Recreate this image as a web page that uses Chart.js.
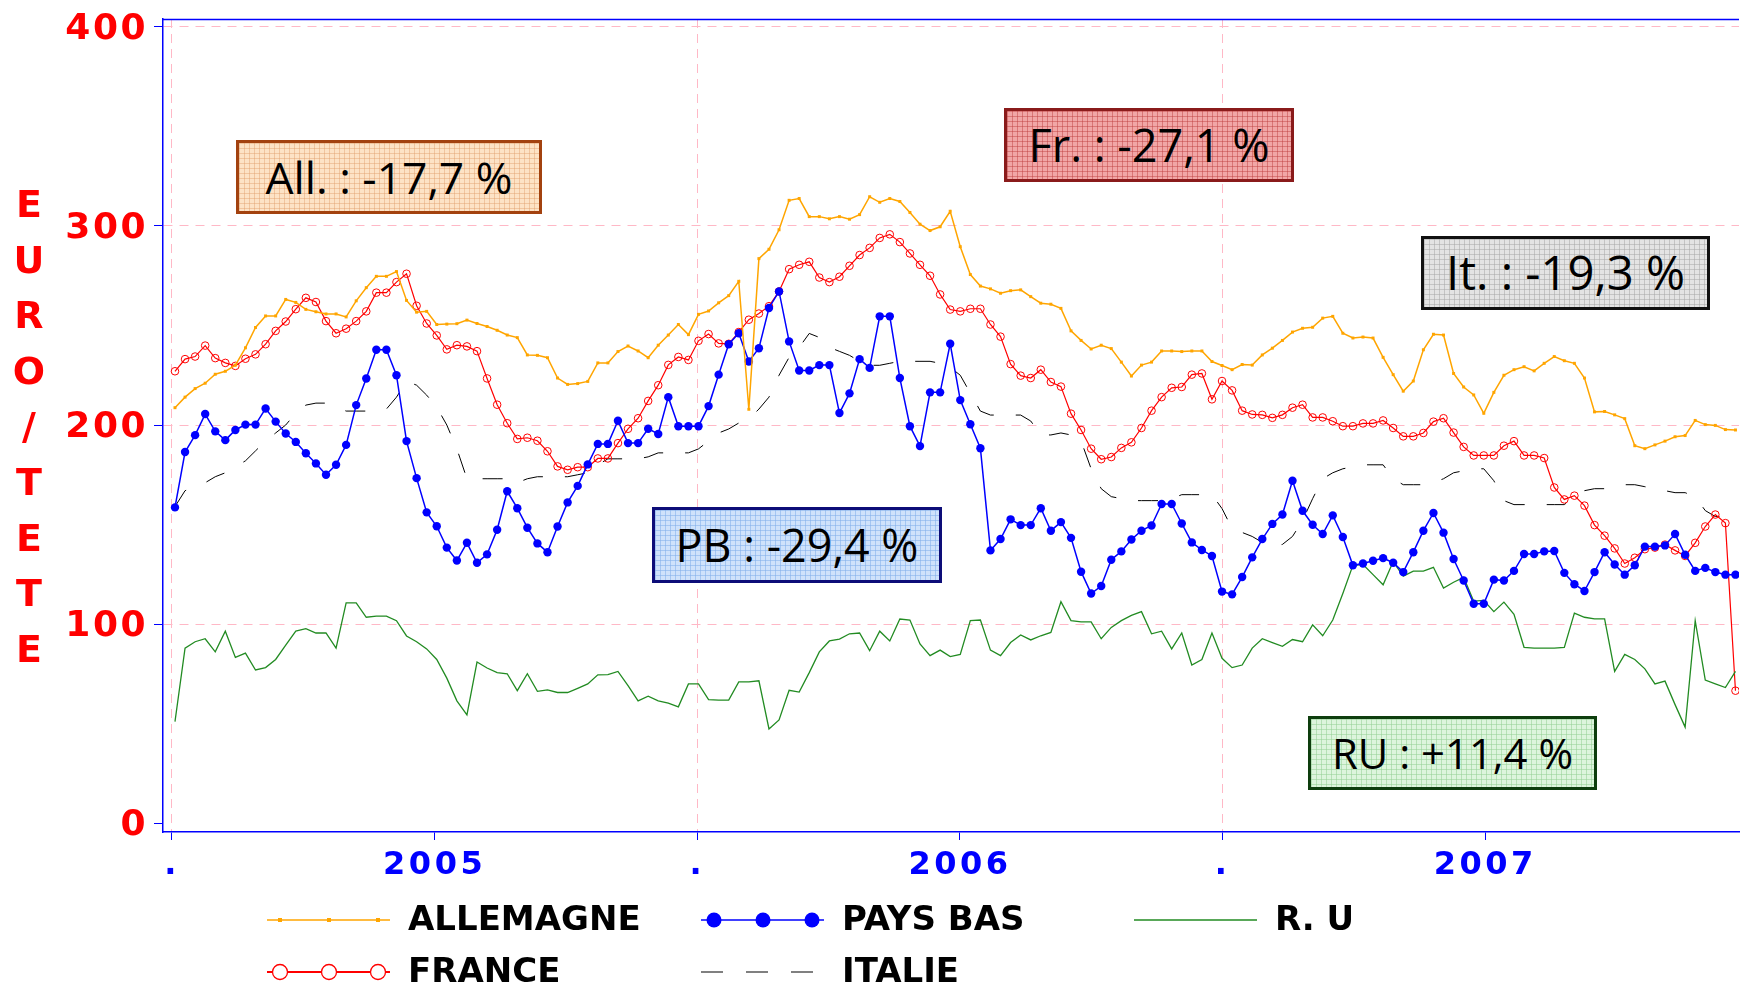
<!DOCTYPE html>
<html>
<head>
<meta charset="utf-8">
<script src="https://cdn.jsdelivr.net/npm/chart.js@4.4.1/dist/chart.umd.min.js"></script>
<style>
html,body{margin:0;padding:0;background:#fff;}
#wrap{position:relative;width:1744px;height:987px;overflow:hidden;background:#fff;}
#c{position:absolute;left:0;top:0;}
.note{position:absolute;box-sizing:border-box;border:3px solid #000;display:flex;align-items:center;justify-content:center;font-family:"Open Sans",sans-serif;color:#000;white-space:nowrap;background-size:5px 5px;}
.note span{line-height:1;font-size:42px;}
#ytitle{position:absolute;left:0;top:0;font-family:"DejaVu Sans",sans-serif;font-weight:bold;color:#ff0000;writing-mode:vertical-lr;text-orientation:upright;font-size:38px;line-height:1;white-space:nowrap;}
</style>
</head>
<body>
<div id="wrap">
  <canvas id="c" width="1744" height="987"></canvas>
  <div id="ytitle">EURO/TETE</div>
</div>
<script>
// ---------------- DATA ----------------
const seriesNames = ['ALLEMAGNE', 'PAYS BAS', 'R. U', 'FRANCE', 'ITALIE'];

const xTickWeeks  = [-0.3, 25.79, 51.88, 77.97, 104.06, 130.15];
const xTickLabels = ['.', '2005', '.', '2006', '.', '2007'];
const yTickValues = [0, 100, 200, 300, 400];

const allemagne = [208.7,214,218.3,221,225.5,227,230.1,238.8,249,254.8,254.8,263.1,261.6,258.1,256.9,255.8,255.8,254.3,262.4,269,
274.7,274.7,277.1,262.6,256.7,257.1,250.5,250.7,250.9,252.7,251,249.5,247.6,245.2,243.9,235.2,235,233.8,223.6,220.4,
220.8,221.9,231.2,231.2,236.9,239.7,237.2,233.8,240.1,245.2,250.5,245.4,255.6,257.3,261.4,265,272.2,207.9,283.6,288.3,
298.1,312.9,313.8,304.7,304.7,303.6,304.7,303.4,305.7,314.7,311.9,313.8,312.3,306.8,300.9,297.7,299.6,307.4,289.6,275.6,
269.8,268.4,266.2,267.5,267.9,264.5,261.2,260.7,258.6,247.3,242.5,238.2,240.1,238.4,231.6,224.6,230.1,231.6,237.2,237.2,
236.9,237.2,237.2,231.9,229.9,227.8,230.4,230.1,235.2,238.6,242.5,246.7,248.6,249.1,253.7,254.6,246.1,243.7,244.2,243.7,
234,225.3,217,222.1,237.8,245.6,245.2,225.9,219.1,215.1,205.9,216.4,225,227.8,229.3,227.2,231,234.4,232.3,231,
223.6,206.6,206.8,205.1,203.2,189.6,188.1,190,191.9,194.1,194.7,202.3,200.2,199.8,197.7,197.5];

const paysBas = [158.6,186.4,194.9,205.5,196.8,192.4,197.5,200.2,200.2,208.3,201.7,195.7,191.5,185.8,180.7,175,180,190,210,223.4,
237.8,237.8,225,191.9,173.3,156.1,149.1,138.4,131.9,140.8,130.8,135,147.4,166.7,158.2,148.4,140.5,136.1,149,161.1,
169.4,180.2,190.5,190.5,202.1,190.9,190.9,198.1,195.5,214,199.4,199.4,199.4,209.5,225.3,240.6,246.1,231.9,238.6,258.8,
267.1,242,227.4,227.4,230.1,230.1,206,215.9,233.1,228.7,254.6,254.6,223.6,199.4,189.4,216.4,216.4,240.8,212.5,200.4,
188.3,137,142.7,152.6,149.7,149.7,158.2,146.9,151.2,143.3,126.3,115.3,119.1,132.3,136.5,142.5,146.9,149.5,160.3,160.3,
150.5,141,137.2,134.2,116.3,114.9,123.6,133.5,142.7,150.3,155,172,156.9,149.9,145.2,154.6,143.7,129.5,130.4,131.8,
133.1,130.8,126.1,136.1,146.9,155.8,145.9,132.7,121.9,110.2,110.2,122.3,121.9,126.7,135.2,135.2,136.5,136.7,125.7,120,
116.6,126.1,136.1,129.9,124.8,129.5,138.9,138.9,139.5,145.2,134.8,126.7,128.2,126.1,124.8,124.8];

const royaumeUni = [51,87.9,91.1,92.6,86,96.4,83.2,85.4,76.9,78.1,82.2,89.4,96.4,97.7,95.5,95.5,87.9,110.6,110.6,103.4,
104,104,101.7,94,91.1,87.5,82.2,72.8,61.4,54.4,80.9,77.9,75.6,75,66.5,75,66.2,66.9,65.6,65.6,
67.7,69.9,74.5,74.6,76.2,69,61.4,63.7,61.4,60.3,58.4,69.9,69.9,62,61.8,61.8,70.9,70.9,71.5,47.3,
51.8,66.7,65.8,75.6,86,91.5,92.4,95.1,95.5,86.6,96.4,91.5,102.5,102,90,84.1,86.9,83.6,84.7,101.7,
102,86.9,84.1,90.7,94.5,92,94.1,95.8,111.2,101.7,101.1,101.1,92.6,98.3,101.7,104.3,106.2,95.1,96.4,87.5,
95.5,79.4,82.2,95.5,82.8,78.1,79.4,87.9,92.6,90.7,88.8,92.2,91.1,99.6,94.1,102,115.3,129.5,129.9,124.8,
119.7,131.4,124.1,126.6,126.6,128.5,118.1,121,123.4,111.5,111.9,106.2,111,104.9,88.3,87.9,87.9,87.9,88.3,105.5,
103.4,102.6,102.6,76.2,84.7,82.2,77.5,69.9,71.3,59.5,48.2,101.7,71.8,69.9,68.1,76.2];

const france = [227,233.1,234.4,239.9,233.6,231.2,229.7,233.3,235.5,240.6,247.3,252,258.2,263.9,261.8,252.2,246.1,248.4,252.2,257.1,
266.5,266.5,271.8,276,259.9,251,245,238,240.1,239.5,237.1,223.4,210.2,200.9,193,193.6,192.1,186.8,179.2,177.5,
178.8,178.8,183.2,183.2,190.9,198.1,203.4,212.1,220,230.2,234.2,232.7,242.3,245.7,241,240.8,246.7,252.9,256,259.7,
267.1,278.3,280.5,282,274.1,271.8,274.5,280,285.4,289,294,295.8,291.9,286.2,280.5,275,265.6,258,257.1,258.4,
258.4,250.5,244.4,230.6,224.8,223.6,227.8,221.6,219.3,205.7,197.5,188.1,182.8,183.9,188.5,191.3,198.5,207.2,214,218.7,
219.1,225.3,225.9,212.9,222.1,217.4,207.2,205.3,205.1,203.6,205.1,208.7,210.2,203.8,203.8,201.9,199.4,199.4,200.8,200.8,
202.3,198.5,194.3,194.3,196,201.7,203.4,196.2,189,184.7,184.7,184.7,189.6,191.9,184.7,184.7,183.4,168.6,162.6,164.5,
159.5,149.7,144.4,138,130.4,133.3,137.6,138.4,139.9,137,134.2,140.8,149,155,150.7,66.5];

const italie = [159,167,169,171,174,176,179,182,187,192,196,200,206,210,211,211,209,207,207,207,
207,208,214,222,220,215,209,200,188,173,173,173,173,173,171,173,174,174,174,174,
175,176,180,183,183,183,183,184,186,186,186,186,188,192,196,198,201,203,208,214,
225,234,239,246,244,239,237,235,232,230,230,231,232,232,232,232,231,229,225,216,
207,205,205,205,205,202,195,195,196,195,192,178,168,164,163,162,162,162,162,163,
165,165,165,165,158,148,146,144,141,139,140,144,152,163,173,176,178,179,180,180,
180,173,170,170,170,171,173,176,177,178,178,172,162,160,160,160,160,160,160,164,
167,168,168,169,170,170,169,168,167,166,166,164,157,154,154,154];

const annotTexts = ['All. : -17,7 %', 'Fr. : -27,1 %', 'It. : -19,3 %', 'PB : -29,4 %', 'RU : +11,4 %'];

// ---------------- STYLE / LAYOUT ----------------
const weeks = paysBas.map((_, i) => i);

const noteStyles = [
  {left:236, top:140, w:306, h:74, bg:'#fde3c6', grid:'rgba(225,160,110,0.45)', border:'#a3420f', tw:247},
  {left:1004, top:108, w:290, h:74, bg:'#f1a6a6', grid:'rgba(190,60,60,0.45)', border:'#8a1b1b', tw:241},
  {left:1421, top:236, w:289, h:74, bg:'#e4e4e4', grid:'rgba(170,170,170,0.55)', border:'#111111', tw:239},
  {left:652, top:507, w:290, h:76, bg:'#cfe2fb', grid:'rgba(130,175,235,0.55)', border:'#0d0d78', tw:243},
  {left:1308, top:716, w:289, h:74, bg:'#ddf5dd', grid:'rgba(150,210,150,0.55)', border:'#0e3e0e', tw:241}
];

const legendPos = [[0,0],[1,0],[2,0],[0,1],[1,1]];
const legendCols = [267, 701, 1134];
const legendRows = [920, 972];

const datasets = [
  {label: seriesNames[0], data: allemagne, borderColor:'#ffa500', backgroundColor:'#ffa500', borderWidth:1.5,
   pointStyle:'rect', pointRadius:2.1, pointBorderWidth:0, pointBackgroundColor:'#ffa500', lgMarker:'rect'},
  {label: seriesNames[1], data: paysBas, borderColor:'#0000ff', backgroundColor:'#0000ff', borderWidth:1.5,
   pointStyle:'circle', pointRadius:4.2, pointBorderWidth:0, pointBackgroundColor:'#0000ff', lgMarker:'dot'},
  {label: seriesNames[2], data: royaumeUni, borderColor:'#228b22', backgroundColor:'#228b22', borderWidth:1.3,
   pointRadius:0, lgMarker:null},
  {label: seriesNames[3], data: france, borderColor:'#ff0000', backgroundColor:'#ff0000', borderWidth:1.2,
   pointStyle:'circle', pointRadius:3.8, pointBorderWidth:1, pointBorderColor:'#ff0000', pointBackgroundColor:'rgba(255,255,255,0)', lgMarker:'ring'},
  {label: seriesNames[4], data: italie, borderColor:'#000000', backgroundColor:'#000000', borderWidth:1,
   borderDash:[20,22], pointRadius:0, lgMarker:null, lgColor:'#808080', lgWidth:2, lgDash:[22,23]}
];

// wrap tick label drawing to add letter spacing
const tickSpacing = {
  id: 'tickSpacing',
  beforeDraw(chart) {
    [['x','3.5px'],['y','2.5px']].forEach(([id, sp]) => {
      const s = chart.scales[id];
      if (s && !s.__wrapped) {
        const orig = s.drawLabels.bind(s);
        s.drawLabels = function(area) {
          const c = chart.ctx; c.save();
          try { c.letterSpacing = sp; } catch(e) {}
          orig(area); c.restore();
        };
        s.__wrapped = true;
      }
    });
  }
};

const frameAndLegend = {
  id: 'frameAndLegend',
  afterDraw(chart) {
    const ctx = chart.ctx, a = chart.chartArea;
    ctx.save();
    ctx.strokeStyle = '#0000ff'; ctx.lineWidth = 1.5;
    ctx.beginPath(); ctx.moveTo(a.left, a.top + 0.5); ctx.lineTo(a.right, a.top + 0.5); ctx.stroke();
    ctx.restore();
    chart.data.datasets.forEach((ds, i) => {
      const [col, row] = legendPos[i];
      const x0 = legendCols[col], y = legendRows[row];
      ctx.save();
      ctx.strokeStyle = ds.lgColor || ds.borderColor;
      ctx.lineWidth = ds.lgWidth || (ds.lgMarker === 'ring' ? 2 : ds.borderWidth);
      ctx.setLineDash(ds.lgDash || []);
      ctx.beginPath(); ctx.moveTo(x0, y); ctx.lineTo(x0 + 123, y); ctx.stroke();
      ctx.setLineDash([]);
      [13, 62, 111].forEach(off => {
        const mx = x0 + off;
        if (ds.lgMarker === 'rect') { ctx.fillStyle = ds.borderColor; ctx.fillRect(mx - 2, y - 2, 4, 4); }
        else if (ds.lgMarker === 'dot') { ctx.fillStyle = ds.borderColor; ctx.beginPath(); ctx.arc(mx, y, 7.5, 0, Math.PI*2); ctx.fill(); }
        else if (ds.lgMarker === 'ring') { ctx.strokeStyle = ds.borderColor; ctx.lineWidth = 1.3; ctx.fillStyle = '#fff';
          ctx.beginPath(); ctx.arc(mx, y, 7.5, 0, Math.PI*2); ctx.fill(); ctx.stroke(); }
      });
      ctx.font = 'bold 34px "DejaVu Sans"';
      ctx.fillStyle = '#000'; ctx.textBaseline = 'middle'; ctx.textAlign = 'left';
      ctx.fillText(ds.label, x0 + 141, y + 1);
      ctx.restore();
    });
  }
};

const chart = new Chart(document.getElementById('c'), {
  type: 'line',
  data: { labels: weeks, datasets: datasets },
  options: {
    responsive: false, animation: false, events: [],
    devicePixelRatio: 1,
    layout: { padding: { top: 19, left: 0, right: 0, bottom: 0 } },
    elements: { line: { tension: 0 } },
    plugins: { legend: { display: false }, tooltip: { enabled: false }, title: { display: false } },
    scales: {
      x: {
        type: 'linear', min: -1.19, max: 155.35,
        afterBuildTicks: s => { s.ticks = xTickWeeks.map(v => ({ value: v })); },
        afterFit: s => { s.height = 155; s.paddingLeft = 0; s.paddingRight = 0; },
        ticks: { autoSkip: false, maxRotation: 0, minRotation: 0, padding: 6, color: '#0000ff',
          font: { family: 'DejaVu Sans', size: 32, weight: 'bold' },
          callback: (v, i) => xTickLabels[i] },
        grid: { color: c => (xTickLabels[c.index] === '.' ? '#ffb8c6' : 'rgba(0,0,0,0)'), lineWidth: 1,
          tickColor: '#0000ff', tickLength: 8, drawTicks: true },
        border: { display: true, color: '#0000ff', width: 1.5, dash: [9, 6] }
      },
      y: {
        min: -4.5, max: 404,
        afterBuildTicks: s => { s.ticks = yTickValues.map(v => ({ value: v })); },
        afterFit: s => { s.width = 163; s.paddingTop = 0; s.paddingBottom = 0; },
        ticks: { padding: 6, labelOffset: 3, color: '#ff0000', font: { family: 'DejaVu Sans', size: 36, weight: 'bold' } },
        grid: { color: c => (c.tick && c.tick.value === 0 ? 'rgba(0,0,0,0)' : '#ffb8c6'), lineWidth: 1,
          tickColor: '#0000ff', tickLength: 9 },
        border: { display: true, color: '#0000ff', width: 1.5, dash: [9, 7] }
      }
    }
  },
  plugins: [tickSpacing, frameAndLegend]
});

// ---------------- HTML annotations ----------------
const wrap = document.getElementById('wrap');
annotTexts.forEach((t, k) => {
  const st = noteStyles[k];
  const d = document.createElement('div');
  d.className = 'note';
  Object.assign(d.style, {
    left: st.left + 'px', top: st.top + 'px', width: st.w + 'px', height: st.h + 'px',
    backgroundColor: st.bg, borderColor: st.border,
    backgroundImage: `linear-gradient(${st.grid} 1px, transparent 1px), linear-gradient(90deg, ${st.grid} 1px, transparent 1px)`
  });
  const sp = document.createElement('span');
  sp.textContent = t;
  d.appendChild(sp);
  wrap.appendChild(d);
  const w = sp.getBoundingClientRect().width;
  if (w > 0) sp.style.fontSize = (42 * st.tw / w).toFixed(2) + 'px';
});

// y axis title (stacked letters)
const yt = document.getElementById('ytitle');
const r0 = yt.getBoundingClientRect();
const n = yt.textContent.length;
const adv = r0.height / n;
yt.style.letterSpacing = (55.6 - adv).toFixed(2) + 'px';
yt.style.top = (203.5 - adv / 2).toFixed(1) + 'px';
const r1 = yt.getBoundingClientRect();
yt.style.left = (29 - r1.width / 2).toFixed(1) + 'px';
</script>
</body>
</html>
